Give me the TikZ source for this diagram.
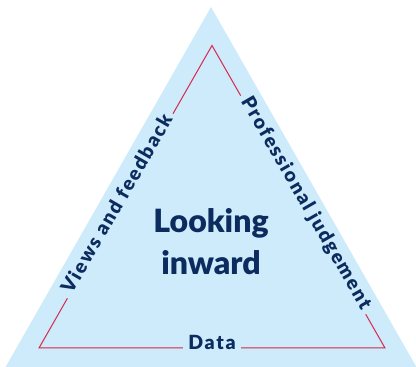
\documentclass[tikz,border=0pt]{standalone}
\usepackage{fontspec}
\setmainfont{Lato}
\newfontfamily\labelfont{Lato Black}[LetterSpace=9]
\newfontfamily\centrefont{Lato Black}
\definecolor{triblue}{HTML}{CDEBFB}
\definecolor{trired}{HTML}{D7264B}
\definecolor{navy}{HTML}{0C2B5E}
\begin{document}
\begin{tikzpicture}[x=1pt,y=1pt,
  edgelabel/.style={fill=triblue, text=navy, font=\labelfont\fontsize{19.5}{23}\selectfont, inner xsep=5pt, inner ysep=0pt, anchor=mid},
  centrelabel/.style={text=navy, font=\centrefont\fontsize{32}{41.8}\selectfont, align=center, inner sep=0pt}]
\useasboundingbox (0,0) rectangle (416,367);
% outer triangle
\coordinate (O1) at (5,-1);
\coordinate (O2) at (417,-1);
\coordinate (O3) at (211,360);
\fill[triblue] (O1) -- (O2) -- (O3) -- cycle;
% inner triangle
\coordinate (A) at (39,19);
\coordinate (B) at (385,19);
\coordinate (C) at (212,321.5);
\draw[trired, line width=1pt, line join=miter] (A) -- (B) -- (C) -- cycle;
% labels on the edges
\node[edgelabel, rotate=60] (views) at (120.3,161) {Views and feedback};
\node[edgelabel, rotate=-60] (prof) at (303.2,162) {Professional judgement};
\node[edgelabel] (data) at (212,20) {Data};
% centre label
\node[centrelabel, anchor=base] (look) at (211,92.7) {Looking\\inward};
\end{tikzpicture}
\end{document}
